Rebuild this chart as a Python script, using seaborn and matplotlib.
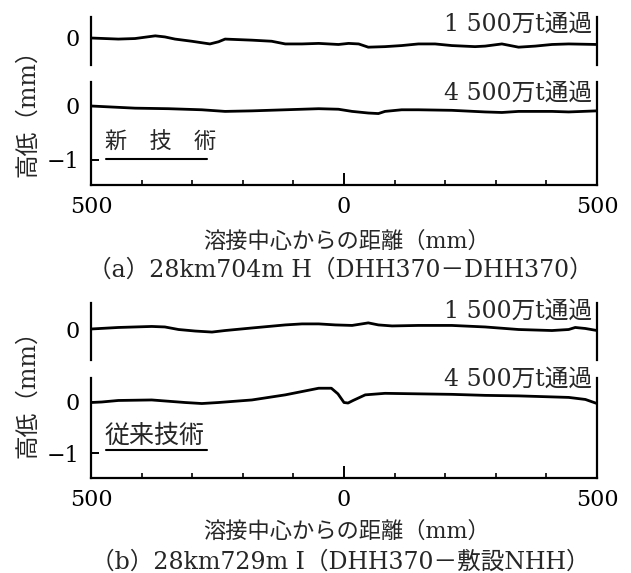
import numpy as np
import pandas as pd
import matplotlib.pyplot as plt
from matplotlib.lines import Line2D
import seaborn as sns

sns.set_theme(style="white")
plt.rcParams['font.family'] = ['DejaVu Serif', 'Noto Sans CJK JP']

# ==============================================================================
# DATA (rail surface height in mm)
# ==============================================================================
# (a) 28km704m H, new technique
a_1500_x = [-500, -446, -413, -373, -354, -334, -301, -265, -248, -235, -182, -143,
            -116, -83, -50, -11, 9, 29, 48, 81, 114, 147, 180, 213, 259, 279,
            312, 345, 378, 411, 444, 500]
a_1500_y = [0.0, -0.02, -0.01, 0.04, 0.02, -0.02, -0.06, -0.11, -0.07, -0.02, -0.04,
            -0.06, -0.11, -0.11, -0.10, -0.12, -0.10, -0.11, -0.17, -0.16, -0.14,
            -0.11, -0.11, -0.14, -0.16, -0.15, -0.11, -0.17, -0.15, -0.12, -0.11,
            -0.12]
a_4500_x = [-500, -413, -347, -281, -235, -182, -116, -50, -11, 16, 48, 68, 81, 114,
            147, 213, 279, 312, 345, 411, 444, 500]
a_4500_y = [0.0, -0.04, -0.05, -0.07, -0.10, -0.09, -0.07, -0.05, -0.06, -0.10,
            -0.13, -0.14, -0.10, -0.07, -0.07, -0.08, -0.11, -0.12, -0.10, -0.10,
            -0.11, -0.09]

# (b) 28km729m I, conventional technique
b_1500_x = [-500, -446, -380, -354, -327, -294, -261, -235, -182, -116, -83, -50,
            -17, 16, 48, 68, 95, 147, 213, 279, 345, 411, 444, 457, 477, 500]
b_1500_y = [0.0, 0.03, 0.05, 0.04, -0.01, -0.04, -0.06, -0.03, 0.02, 0.08, 0.10,
            0.10, 0.08, 0.07, 0.12, 0.08, 0.06, 0.07, 0.07, 0.04, -0.01, -0.03,
            -0.01, 0.03, 0.01, -0.03]
b_4500_x = [-500, -479, -446, -380, -314, -281, -248, -182, -116, -50, -25, -12, 0,
            8, 18, 42, 81, 147, 213, 279, 345, 411, 444, 477, 500]
b_4500_y = [-0.01, 0.0, 0.03, 0.04, -0.01, -0.03, -0.01, 0.04, 0.14, 0.27, 0.27,
            0.16, -0.01, -0.02, 0.03, 0.14, 0.17, 0.16, 0.15, 0.13, 0.12, 0.10,
            0.09, 0.05, -0.03]

x_ticks = [-500, 0, 500]
x_tick_labels = ['500', '0', '500']
x_minor = [-400, -300, -200, -100, 100, 200, 300, 400]
label_1500 = '1 500万t通過'
label_4500 = '4 500万t通過'
panels = [
    dict(top=(a_1500_x, a_1500_y), bot=(a_4500_x, a_4500_y),
         tech='新\u3000技\u3000術', tech_size=16,
         caption='（a）28km704m H（DHH370－DHH370）'),
    dict(top=(b_1500_x, b_1500_y), bot=(b_4500_x, b_4500_y),
         tech='従来技術', tech_size=18,
         caption='（b）28km729m I（DHH370－敷設NHH）'),
]

# ==============================================================================
# LAYOUT (pixel positions of the scan)
# ==============================================================================
W, H = 631, 573
X0, X1 = 91, 597
# per panel: upper axis top/zero/bottom, lower axis top/zero/bottom, px per mm,
# y of the two load labels, y of method label, underline, y label, x label, caption
geo = [
    dict(u=(17, 38, 65), l=(82, 106, 185), s=54, lab=(24, 93),
         tech=143, ul=159, ylab=107, xlab=242, cap=270),
    dict(u=(303, 329, 360), l=(378, 402, 478), s=51, lab=(311, 379),
         tech=436, ul=450, ylab=388, xlab=532, cap=562),
]

fig = plt.figure(figsize=(W / 100, H / 100), dpi=100)


def fx(px):
    return px / W


def fy(py):
    return 1 - py / H


def make_ax(top, zero, bot, scale):
    ax = fig.add_axes([fx(X0), fy(bot), fx(X1 - X0), (bot - top) / H])
    ax.set_xlim(-500, 500)
    ax.set_ylim(-(bot - zero) / scale, (zero - top) / scale)
    ax.set_facecolor('none')
    for s in ax.spines.values():
        s.set_color('black')
        s.set_linewidth(1.6)
    ax.spines['top'].set_visible(False)
    ax.tick_params(axis='both', direction='in', colors='black', width=1.4,
                   labelsize=16, left=True, bottom=True)
    ax.tick_params(axis='y', length=5.5, pad=8)
    return ax


for p, g in zip(panels, geo):
    s = g['s']
    ax_u = make_ax(*g['u'], s)
    ax_l = make_ax(*g['l'], s)

    ax_u.spines['bottom'].set_visible(False)
    ax_u.set_xticks([])
    ax_u.set_yticks([0])
    ax_u.set_yticklabels(['0'])

    ax_l.set_yticks([0, -1])
    ax_l.set_yticklabels(['0', '\u22121'])
    ax_l.set_xticks(x_ticks)
    ax_l.set_xticklabels(x_tick_labels)
    ax_l.set_xticks(x_minor, minor=True)
    ax_l.tick_params(axis='x', which='major', length=8.5, pad=8)
    ax_l.tick_params(axis='x', which='minor', direction='in', length=3.6,
                     width=1.4, bottom=True)

    sns.lineplot(x=p['top'][0], y=p['top'][1], ax=ax_u, color='black',
                 linewidth=2.0, estimator=None, sort=False)
    sns.lineplot(x=p['bot'][0], y=p['bot'][1], ax=ax_l, color='black',
                 linewidth=2.0, estimator=None, sort=False)
    for a in (ax_u, ax_l):
        a.set_xlabel('')
        a.set_ylabel('')

    fig.text(fx(592), fy(g['lab'][0]), label_1500, ha='right', va='center',
             fontsize=17)
    fig.text(fx(592), fy(g['lab'][1]), label_4500, ha='right', va='center',
             fontsize=17)
    fig.text(fx(105), fy(g['tech']), p['tech'], ha='left', va='center',
             fontsize=p['tech_size'])
    fig.add_artist(Line2D([fx(106), fx(207)], [fy(g['ul']), fy(g['ul'])],
                          transform=fig.transFigure, color='black', lw=1.5))
    fig.text(fx(28), fy(g['ylab']), '高低（mm）', rotation=90, ha='center',
             va='center', fontsize=17)
    fig.text(fx(347), fy(g['xlab']), '溶接中心からの距離（mm）', ha='center',
             va='center', fontsize=16)
    fig.text(fx(340), fy(g['cap']), p['caption'], ha='center', va='center',
             fontsize=17)

fig.savefig('out.png', dpi=100, facecolor='white')
plt.close(fig)
